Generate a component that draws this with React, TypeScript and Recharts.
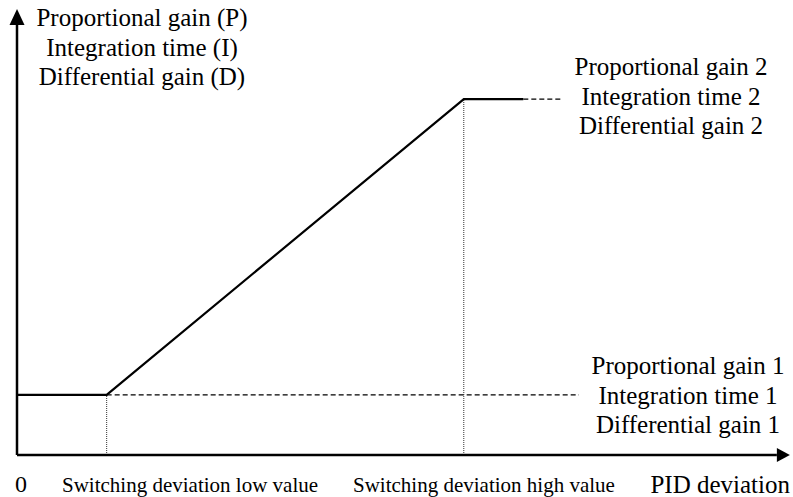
import React from 'react';
import {
    LineChart,
    Line,
    XAxis,
    YAxis,
    ReferenceLine,
    ReferenceDot,
} from 'recharts';

// x positions along "PID deviation" (0..100), y levels of the gains (0..100)
const switchPoints = { low: 11.6, high: 57.8 };
const gainLevels = { low: 13.5, high: 79.8 };
const solidEnd = 65.5;
const highDashEnd = 70.6;
const lowDashEnd = 72.7;
const axisMax = { x: 98.3, y: 96.4 };

const gainCurve = [
    { x: 0, y: gainLevels.low },
    { x: switchPoints.low, y: gainLevels.low },
    { x: switchPoints.high, y: gainLevels.high },
    { x: solidEnd, y: gainLevels.high },
];
const highDash = [
    { x: solidEnd, y: gainLevels.high },
    { x: highDashEnd, y: gainLevels.high },
];
const lowDash = [
    { x: switchPoints.low, y: gainLevels.low },
    { x: lowDashEnd, y: gainLevels.low },
];

const yAxisLabel = ['Proportional gain (P)', 'Integration time (I)', 'Differential gain (D)'];
const highLabel = ['Proportional gain 2', 'Integration time 2', 'Differential gain 2'];
const lowLabel = ['Proportional gain 1', 'Integration time 1', 'Differential gain 1'];
const xTickLabels = ['0', 'Switching deviation low value', 'Switching deviation high value'];
const xAxisTitle = 'PID deviation';

const FONT = '"Liberation Serif", "Times New Roman", serif';

const ArrowUp = ({ cx, cy }: any) => (
    <polygon points={`${cx},${cy - 16} ${cx - 7.5},${cy} ${cx + 7.5},${cy}`} fill="#000" />
);
const ArrowRight = ({ cx, cy }: any) => (
    <polygon points={`${cx},${cy - 7} ${cx + 13},${cy} ${cx},${cy + 7}`} fill="#000" />
);

const TextBlock = ({ lines, x, y, size = 25 }: { lines: string[]; x: number; y: number; size?: number }) => (
    <text x={x} y={y} textAnchor="middle" fontFamily={FONT} fontSize={size} fill="#000">
        {lines.map((l, i) => (
            <tspan key={i} x={x} dy={i === 0 ? 0 : 29.5}>
                {l}
            </tspan>
        ))}
    </text>
);

const App: React.FC = () => {
    return (
        <div style={{ position: 'fixed', left: 0, top: 0, width: 793, height: 497, background: '#fff' }}>
            <LineChart
                width={793}
                height={497}
                margin={{ top: 9, right: 3, bottom: 42, left: 17 }}
            >
                <XAxis type="number" dataKey="x" domain={[0, 100]} hide allowDataOverflow />
                <YAxis type="number" dataKey="y" domain={[0, 100]} hide allowDataOverflow />

                <ReferenceLine
                    segment={[{ x: switchPoints.low, y: 0 }, { x: switchPoints.low, y: gainLevels.low }]}
                    stroke="#333"
                    strokeWidth={1}
                    strokeDasharray="1 1"
                />
                <ReferenceLine
                    segment={[{ x: switchPoints.high, y: 0 }, { x: switchPoints.high, y: gainLevels.high }]}
                    stroke="#333"
                    strokeWidth={1}
                    strokeDasharray="1 1"
                />

                <Line data={lowDash} dataKey="y" stroke="#000" strokeWidth={1.3} strokeDasharray="5 3" dot={false} isAnimationActive={false} />
                <Line data={highDash} dataKey="y" stroke="#000" strokeWidth={1.3} strokeDasharray="5 3" dot={false} isAnimationActive={false} />
                <Line data={gainCurve} dataKey="y" stroke="#000" strokeWidth={2.2} dot={false} isAnimationActive={false} />

                <ReferenceLine segment={[{ x: 0, y: 0 }, { x: axisMax.x, y: 0 }]} stroke="#000" strokeWidth={2.5} />
                <ReferenceLine segment={[{ x: 0, y: 0 }, { x: 0, y: axisMax.y }]} stroke="#000" strokeWidth={2.5} />
                <ReferenceDot x={axisMax.x} y={0} shape={ArrowRight} />
                <ReferenceDot x={0} y={axisMax.y} shape={ArrowUp} />
            </LineChart>

            <svg width={793} height={497} style={{ position: 'absolute', left: 0, top: 0, pointerEvents: 'none' }}>
                <TextBlock lines={yAxisLabel} x={142} y={26} />
                <TextBlock lines={highLabel} x={671} y={75} />
                <TextBlock lines={lowLabel} x={688} y={374} />
                <text x={21} y={492} textAnchor="middle" fontFamily={FONT} fontSize={24}>{xTickLabels[0]}</text>
                <text x={62} y={492} fontFamily={FONT} fontSize={21}>{xTickLabels[1]}</text>
                <text x={353} y={492} fontFamily={FONT} fontSize={21}>{xTickLabels[2]}</text>
                <text x={790} y={493} textAnchor="end" fontFamily={FONT} fontSize={25}>{xAxisTitle}</text>
            </svg>
        </div>
    );
};

export default App;
